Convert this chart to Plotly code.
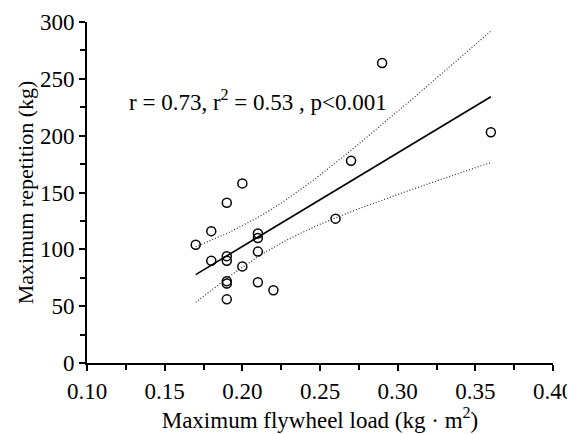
import numpy as np
import plotly.graph_objects as go

# Data
flywheel_load = [0.20, 0.19, 0.18, 0.17, 0.18, 0.19, 0.19, 0.21, 0.21, 0.21,
                 0.20, 0.19, 0.19, 0.21, 0.22, 0.19, 0.29, 0.36, 0.27, 0.26]
max_repetition = [158, 141, 116, 104, 90, 94, 90, 114, 110, 98,
                  85, 72, 70, 71, 64, 56, 264, 203, 178, 127]
x_ticks = [0.10, 0.15, 0.20, 0.25, 0.30, 0.35, 0.40]
y_ticks = [0, 50, 100, 150, 200, 250, 300]
stats_text = "r = 0.73, r<sup>2</sup> = 0.53 , p&lt;0.001"

x = np.array(flywheel_load)
y = np.array(max_repetition)
n = len(x)
slope, intercept = np.polyfit(x, y, 1)
xs = np.linspace(x.min(), x.max(), 60)
yfit = intercept + slope * xs
resid = y - (intercept + slope * x)
s = np.sqrt(np.sum(resid ** 2) / (n - 2))
sxx = np.sum((x - x.mean()) ** 2)
tval = 2.101  # t(0.975, df=18)
half = tval * s * np.sqrt(1.0 / n + (xs - x.mean()) ** 2 / sxx)

fig = go.Figure()
fig.add_trace(go.Scatter(x=xs, y=yfit + half, mode="lines",
                         line=dict(color="#333", width=1.2, dash="1px,2px"), hoverinfo="skip"))
fig.add_trace(go.Scatter(x=xs, y=yfit - half, mode="lines",
                         line=dict(color="#333", width=1.2, dash="1px,2px"), hoverinfo="skip"))
fig.add_trace(go.Scatter(x=xs, y=yfit, mode="lines",
                         line=dict(color="black", width=1.6), hoverinfo="skip"))
fig.add_trace(go.Scatter(x=flywheel_load, y=max_repetition, mode="markers",
                         marker=dict(symbol="circle-open", size=9, color="black",
                                     line=dict(width=1.5, color="black"))))

font_family = "Liberation Serif, Times New Roman, serif"
fig.update_layout(
    width=567, height=426,
    margin=dict(l=79, r=22, t=14, b=71),
    plot_bgcolor="white", paper_bgcolor="white",
    showlegend=False,
    font=dict(family=font_family, color="black", size=23),
    xaxis=dict(range=[0.10, 0.40], tickvals=x_ticks, ticktext=[f"{v:.2f}" for v in x_ticks],
               showgrid=False, zeroline=False, showline=True, linecolor="black", linewidth=2,
               ticks="outside", ticklen=6, tickwidth=2, tickcolor="black",
               minor=dict(dtick=0.025, ticks="outside", ticklen=5, tickwidth=2, tickcolor="black"),
               tickfont=dict(size=23, family=font_family), automargin=False,
               title=dict(text="Maximum flywheel load (kg · m<sup>2</sup>)", font=dict(size=23), standoff=9)),
    yaxis=dict(range=[0, 300], tickvals=y_ticks,
               showgrid=False, zeroline=False, showline=True, linecolor="black", linewidth=2,
               ticks="outside", ticklen=6, tickwidth=2, tickcolor="black",
               minor=dict(dtick=25, ticks="outside", ticklen=5, tickwidth=2, tickcolor="black"),
               tickfont=dict(size=23, family=font_family), automargin=False,
               title=dict(text="Maximum repetition (kg)", font=dict(size=22), standoff=0)),
    annotations=[dict(x=0.1255, y=231, xref="x", yref="y", text=stats_text, showarrow=False,
                      xanchor="left", yanchor="middle", font=dict(size=23, family=font_family))],
)
fig.write_html("out.html")
